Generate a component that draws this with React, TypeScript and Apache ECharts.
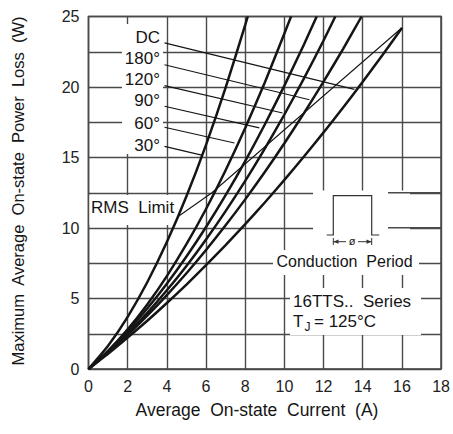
import React, { useEffect, useRef } from "react";
import * as echarts from "echarts";

// Axis ticks
const xTickValues = [0, 2, 4, 6, 8, 10, 12, 14, 16, 18];
const yTickValues = [0, 5, 10, 15, 20, 25];

// Curves (average current A, power loss W)
const i30 = [0, 1, 2, 3, 4, 5, 6, 7, 8, 8.13];
const p30 = [0, 1.65, 3.7, 6.15, 9.0, 12.25, 15.9, 19.95, 24.4, 25];
const i60 = [0, 1, 2, 3, 4, 5, 6, 7, 8, 9, 10, 10.34];
const p60 = [0, 1.28, 2.81, 4.58, 6.59, 8.85, 11.35, 14.1, 17.09, 20.32, 23.8, 25];
const i90 = [0, 1, 2, 3, 4, 5, 6, 7, 8, 9, 10, 11, 11.65];
const p90 = [0, 1.26, 2.69, 4.29, 6.05, 7.98, 10.07, 12.33, 14.75, 17.34, 20.1, 23.02, 25];
const i120 = [0, 1, 2, 3, 4, 5, 6, 7, 8, 9, 10, 11, 12, 12.6];
const p120 = [0, 1.19, 2.51, 3.98, 5.58, 7.31, 9.19, 11.2, 13.34, 15.63, 18.05, 20.61, 23.3, 25];
const i180 = [0, 1, 2, 3, 4, 5, 6, 7, 8, 9, 10, 11, 12, 13, 13.94];
const p180 = [0, 1.16, 2.42, 3.78, 5.24, 6.79, 8.44, 10.19, 12.03, 13.97, 16.01, 18.15, 20.38, 22.71, 25];
const iDC = [0, 1, 2, 3, 4, 5, 6, 7, 8, 9, 10, 11, 12, 13, 14, 15, 16];
const pDC = [0, 1.08, 2.23, 3.42, 4.68, 5.99, 7.36, 8.79, 10.27, 11.81, 13.41, 15.07, 16.78, 18.54, 20.37, 22.25, 24.19];

// RMS limit line
const rmsI = [4.56, 6.3, 16];
const rmsP = [10.8, 12.5, 24.2];

// Leader lines from labels to curves
const leaderNames = ["DC", "180°", "120°", "90°", "60°", "30°"];
const leaderStartI = [3.88, 3.88, 3.88, 3.88, 3.88, 3.88];
const leaderStartP = [23.13, 21.58, 20.1, 18.63, 17.14, 15.79];
const leaderEndI = [13.57, 11.28, 9.91, 8.72, 7.45, 5.83];
const leaderEndP = [19.83, 19.1, 18.16, 17.1, 16.03, 15.15];

const FONT = "'Liberation Sans', Arial, sans-serif";
const INK = "#151515";
const GRIDC = "#4a4a4a";

function pairs(xs: number[], ys: number[]) {
  return xs.map((x, k) => [x, ys[k]]);
}

export default function App() {
  const ref = useRef<HTMLDivElement>(null);
  useEffect(() => {
    const chart = echarts.init(ref.current!, null, { renderer: "svg" });
    const curve = (name: string, xs: number[], ys: number[]) => ({
      type: "line",
      name,
      data: pairs(xs, ys),
      showSymbol: false,
      symbol: "none",
      smooth: 0.2,
      lineStyle: { color: INK, width: 2.5 },
      z: 3,
    });
    const leaders = leaderNames.map((n, k) => ({
      type: "line",
      name: "leader " + n,
      data: [
        [leaderStartI[k], leaderStartP[k]],
        [leaderEndI[k], leaderEndP[k]],
      ],
      showSymbol: false,
      symbol: "none",
      lineStyle: { color: INK, width: 1.1 },
      z: 3,
    }));
    const labelYs = [37, 58, 79, 100, 123, 145];
    const white = (x: number, y: number, w: number, h: number) => ({
      type: "rect",
      shape: { x, y, width: w, height: h },
      style: { fill: "#ffffff" },
      z: 1,
    });
    const txt = (
      text: string,
      x: number,
      y: number,
      size: number,
      align: string = "left",
      extra: any = {}
    ) => ({
      type: "text",
      x,
      y,
      z: 10,
      ...extra,
      style: {
        text,
        fill: INK,
        font: `${size}px ${FONT}`,
        align,
        verticalAlign: "middle",
      },
    });
    const seg = (x1: number, y1: number, x2: number, y2: number, w = 1.2, c = "#333") => ({
      type: "line",
      shape: { x1, y1, x2, y2 },
      style: { stroke: c, lineWidth: w },
      z: 5,
    });

    const option: any = {
      animation: false,
      backgroundColor: "#ffffff",
      grid: {
        left: 88.5,
        right: 11.5,
        top: 16.5,
        bottom: 65,
        show: true,
        borderColor: "#3a3a3a",
        borderWidth: 1.6,
      },
      xAxis: {
        type: "value",
        min: 0,
        max: 18,
        interval: 2,
        axisLine: { show: false },
        axisTick: { show: false },
        axisLabel: {
          color: "#222",
          fontSize: 16,
          fontFamily: FONT,
          margin: 9,
          formatter: (v: number) => (xTickValues.includes(v) ? String(v) : ""),
        },
        splitLine: { show: true, lineStyle: { color: GRIDC, width: 1.4 } },
      },
      yAxis: {
        type: "value",
        min: 0,
        max: 25,
        interval: 2.5,
        axisLine: { show: false },
        axisTick: { show: false },
        axisLabel: {
          color: "#222",
          fontSize: 16,
          fontFamily: FONT,
          margin: 9,
          formatter: (v: number) => (yTickValues.includes(v) ? String(v) : ""),
        },
        splitLine: { show: true, lineStyle: { color: GRIDC, width: 1.4 } },
      },
      series: [
        curve("30°", i30, p30),
        curve("60°", i60, p60),
        curve("90°", i90, p90),
        curve("120°", i120, p120),
        curve("180°", i180, p180),
        curve("DC", iDC, pDC),
        {
          type: "line",
          name: "RMS Limit",
          data: pairs(rmsI, rmsP),
          showSymbol: false,
          symbol: "none",
          lineStyle: { color: INK, width: 1.1 },
          z: 3,
        },
        ...leaders,
      ],
      graphic: [
        white(122, 24, 41, 130),
        white(89.5, 195, 89, 30),
        white(313, 190.5, 97, 60),
        white(273, 250, 146, 25),
        white(290, 288, 131, 47),
        seg(388, 192.7, 441, 192.7, 1.4, GRIDC),
        seg(388, 227.7, 441, 227.7, 1.4, GRIDC),
        ...leaderNames.map((n, k) => txt(n, 160, labelYs[k], 17, "right")),
        txt("RMS  Limit", 91, 207, 17),
        {
          type: "polyline",
          shape: {
            points: [
              [326.7, 235],
              [333.3, 235],
              [333.3, 195.7],
              [371.7, 195.7],
              [371.7, 235],
              [379.3, 235],
            ],
          },
          style: { stroke: "#333", lineWidth: 1.2, fill: null },
          z: 5,
        },
        seg(333.3, 241.7, 346, 241.7, 1),
        seg(358, 241.7, 371.7, 241.7, 1),
        seg(333.3, 238, 333.3, 245, 1),
        seg(371.7, 238, 371.7, 245, 1),
        {
          type: "polygon",
          shape: { points: [[333.3, 241.7], [338.5, 239.6], [338.5, 243.8]] },
          style: { fill: "#333" },
          z: 5,
        },
        {
          type: "polygon",
          shape: { points: [[371.7, 241.7], [366.5, 239.6], [366.5, 243.8]] },
          style: { fill: "#333" },
          z: 5,
        },
        txt("ø", 352, 241, 11, "center"),
        txt("Conduction  Period", 276.5, 261, 16),
        txt("16TTS..  Series", 293, 301.5, 17),
        txt("T", 293, 321.5, 17),
        txt("J", 304.5, 327, 12),
        txt("= 125°C", 314, 321.5, 17),
        txt("Average  On-state  Current  (A)", 257, 410, 17.5, "center"),
        txt("Maximum  Average  On-state  Power  Loss  (W)", 18, 191, 16.5, "center", {
          rotation: Math.PI / 2,
        }),
      ],
    };
    chart.setOption(option);
    return () => chart.dispose();
  }, []);
  return (
    <div
      ref={ref}
      style={{ position: "fixed", left: 0, top: 0, width: 453, height: 434 }}
    />
  );
}
